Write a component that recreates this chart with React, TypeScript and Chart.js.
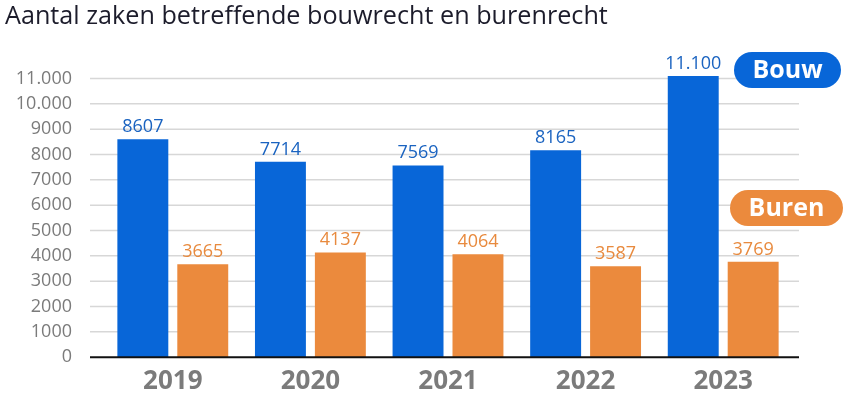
import { useEffect, useRef } from 'react';
import { Chart, registerables } from 'chart.js';

Chart.register(...registerables);

const titleText = 'Aantal zaken betreffende bouwrecht en burenrecht';
const years = ['2019', '2020', '2021', '2022', '2023'];
const bouw = [8607, 7714, 7569, 8165, 11100];
const buren = [3665, 4137, 4064, 3587, 3769];
const seriesNames = ['Bouw', 'Buren'];
const yTicks = [0, 1000, 2000, 3000, 4000, 5000, 6000, 7000, 8000, 9000, 10000, 11000];
const yTickLabels = ['0', '1000', '2000', '3000', '4000', '5000', '6000', '7000', '8000', '9000', '10.000', '11.000'];

const BLUE = '#0866d8';
const ORANGE = '#eb8a3d';
const BLUE_TXT = '#1a63c0';
const ORANGE_TXT = '#e88a3e';
const FONT = '"Open Sans", "Noto Sans", sans-serif';

const fmt = (v: number) => (v >= 10000 ? String(v).replace(/\B(?=(\d{3})+(?!\d))/g, '.') : String(v));

const decor = {
  id: 'decor',
  beforeDatasetsDraw(chart: any) {
    const { ctx, scales, chartArea } = chart;
    const y = scales.y;
    const x0 = chartArea.left - 14;
    const x1 = chartArea.right + 7;
    ctx.save();
    ctx.strokeStyle = '#d7d7d7';
    ctx.lineWidth = 1.5;
    yTicks.forEach((v) => {
      if (v === 0) return;
      const py = y.getPixelForValue(v);
      ctx.beginPath();
      ctx.moveTo(x0, py);
      ctx.lineTo(x1, py);
      ctx.stroke();
    });
    ctx.restore();
  },
  afterDatasetsDraw(chart: any) {
    const { ctx, scales, chartArea } = chart;
    const y = scales.y;
    const x0 = chartArea.left - 14;
    const x1 = chartArea.right + 7;
    ctx.save();
    // baseline
    ctx.strokeStyle = '#111111';
    ctx.lineWidth = 2;
    const by = y.getPixelForValue(0);
    ctx.beginPath();
    ctx.moveTo(x0, by);
    ctx.lineTo(x1, by);
    ctx.stroke();

    // value labels
    ctx.font = `18px ${FONT}`;
    ctx.textAlign = 'center';
    ctx.textBaseline = 'alphabetic';
    chart.data.datasets.forEach((ds: any, di: number) => {
      const meta = chart.getDatasetMeta(di);
      ctx.fillStyle = di === 0 ? BLUE_TXT : ORANGE_TXT;
      meta.data.forEach((bar: any, i: number) => {
        ctx.fillText(fmt(ds.data[i]), bar.x, bar.y - 7);
      });
    });

    // legend pills
    const pills = [
      { text: seriesNames[0], color: BLUE, x: 734, y: 52, w: 107, h: 36 },
      { text: seriesNames[1], color: ORANGE, x: 730, y: 190, w: 113, h: 36 },
    ];
    pills.forEach((p) => {
      const r = p.h / 2;
      ctx.fillStyle = p.color;
      ctx.beginPath();
      ctx.moveTo(p.x + r, p.y);
      ctx.lineTo(p.x + p.w - r, p.y);
      ctx.arc(p.x + p.w - r, p.y + r, r, -Math.PI / 2, Math.PI / 2);
      ctx.lineTo(p.x + r, p.y + p.h);
      ctx.arc(p.x + r, p.y + r, r, Math.PI / 2, (3 * Math.PI) / 2);
      ctx.closePath();
      ctx.fill();
      ctx.fillStyle = '#ffffff';
      ctx.font = `bold 25px ${FONT}`;
      ctx.textAlign = 'center';
      ctx.textBaseline = 'middle';
      ctx.fillText(p.text, p.x + p.w / 2, p.y + p.h / 2 + 1);
    });

    // title
    ctx.fillStyle = '#1c1c2b';
    ctx.font = `25.2px ${FONT}`;
    ctx.textAlign = 'left';
    ctx.textBaseline = 'alphabetic';
    ctx.fillText(titleText, 5, 24);
    ctx.restore();
  },
};

export default function App() {
  const ref = useRef<HTMLCanvasElement>(null);
  useEffect(() => {
    if (!ref.current) return;
    const chart = new Chart(ref.current, {
      type: 'bar',
      data: {
        labels: years,
        datasets: [
          { label: seriesNames[0], data: bouw, backgroundColor: BLUE },
          { label: seriesNames[1], data: buren, backgroundColor: ORANGE },
        ],
      },
      options: {
        responsive: false,
        animation: false,
        categoryPercentage: 0.871,
        barPercentage: 0.85,
        layout: { padding: { top: 76, right: 62, left: 0, bottom: 0 } },
        plugins: {
          legend: { display: false },
          title: { display: false },
          tooltip: { enabled: false },
        },
        scales: {
          x: {
            grid: { display: false, drawTicks: false },
            border: { display: false },
            ticks: {
              color: '#7b7b7b',
              font: { family: FONT, size: 26, weight: 'bold' },
              padding: 9,
            },
            afterFit: (s: any) => {
              s.height = 38;
            },
          },
          y: {
            min: 0,
            max: 11100,
            grid: { display: false, drawTicks: false },
            border: { display: false },
            afterBuildTicks: (s: any) => {
              s.ticks = yTicks.map((v) => ({ value: v }));
            },
            ticks: {
              color: '#7b7b7b',
              font: { family: FONT, size: 18 },
              padding: 32,
              callback: (v: any) => yTickLabels[yTicks.indexOf(Number(v))],
            },
            afterFit: (s: any) => {
              s.width = 104;
            },
          },
        },
      },
      plugins: [decor],
    });
    return () => chart.destroy();
  }, []);
  return (
    <div style={{ position: 'fixed', left: 0, top: 0, width: 854, height: 400, background: '#fff' }}>
      <canvas ref={ref} width={854} height={400} />
    </div>
  );
}
